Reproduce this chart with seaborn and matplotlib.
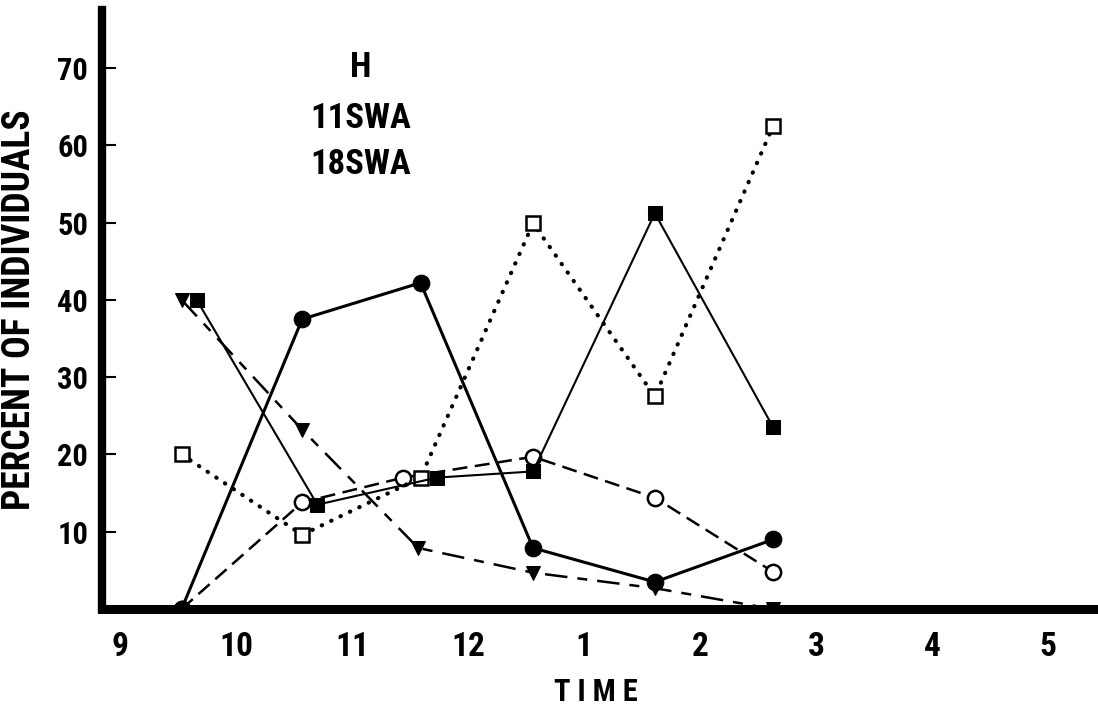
import numpy as np
import pandas as pd
import matplotlib
matplotlib.use('Agg')
import matplotlib.pyplot as plt
import seaborn as sns

# values (x in hours, 13 = 1 pm, etc.)
hour_ticks = [9, 10, 11, 12, 13, 14, 15, 16, 17]
hour_labels = ['9', '10', '11', '12', '1', '2', '3', '4', '5']
pct_ticks = [10, 20, 30, 40, 50, 60, 70]

x_fcircle = [9.53, 10.57, 11.59, 12.56, 13.61, 14.63]
y_fcircle = [0, 37.5, 42.2, 7.9, 3.5, 9.0]

x_fsquare = [9.66, 10.70, 11.73, 12.56, 13.61, 14.63]
y_fsquare = [40, 13.5, 17.0, 17.8, 51.2, 23.5]

x_ocircle = [9.53, 10.57, 11.44, 12.56, 13.61, 14.63]
y_ocircle = [0, 13.8, 17.0, 19.7, 14.4, 4.8]

x_osquare = [9.53, 10.57, 11.59, 12.56, 13.61, 14.63]
y_osquare = [20, 9.6, 17.0, 49.9, 27.5, 62.5]

x_tri = [9.53, 10.57, 11.57, 12.56, 13.61, 14.63]
y_tri = [40, 23.2, 7.9, 4.7, 2.7, 0]

label_lines = ['H', '11SWA', '18SWA']
label_y = [70.1, 63.5, 57.5]

sns.set_style('white')
plt.rcParams['font.family'] = ['Roboto Condensed', 'DejaVu Sans']
plt.rcParams['font.weight'] = 'bold'
for k in ['text.color', 'axes.labelcolor', 'xtick.color', 'ytick.color']:
    plt.rcParams[k] = 'black'

fig = plt.figure(figsize=(10.98, 7.09), dpi=100)
ax = fig.add_axes([0.093, 0.141, 0.907, 0.845])

sns.lineplot(x=x_ocircle, y=y_ocircle, ax=ax, color='black', lw=1.8,
             ls=(0, (6, 3)), marker='o', ms=11, mfc='white', mec='black', mew=1.8)
sns.lineplot(x=x_osquare, y=y_osquare, ax=ax, color='black', lw=3.0,
             ls=(0, (0.1, 2.4)), dash_capstyle='round', marker='s', ms=9.5,
             mfc='white', mec='black', mew=1.8)
sns.lineplot(x=x_tri, y=y_tri, ax=ax, color='black', lw=1.8,
             ls=(0, (9, 4, 4, 4)), marker='v', ms=10, mfc='black', mec='black')
sns.lineplot(x=x_fsquare, y=y_fsquare, ax=ax, color='black', lw=1.5,
             marker='s', ms=10, mfc='black', mec='black')
sns.lineplot(x=x_fcircle, y=y_fcircle, ax=ax, color='black', lw=2.2,
             marker='o', ms=12, mfc='black', mec='black')

ax.set_xlim(8.845, 17.43)
ax.set_ylim(0, 77.5)
ax.set_xticks(hour_ticks)
ax.set_xticklabels(hour_labels)
ax.set_yticks(pct_ticks)
ax.tick_params(axis='x', length=0, pad=16, labelsize=24)
ax.tick_params(axis='y', left=True, direction='in', length=10, width=1.5,
               pad=10, labelsize=22)

for side in ['top', 'right']:
    ax.spines[side].set_visible(False)
ax.spines['left'].set_linewidth(6.0)
ax.spines['bottom'].set_linewidth(6.5)
for side in ['left', 'bottom']:
    ax.spines[side].set_color('black')
    ax.spines[side].set_clip_on(False)

ax.set_ylabel('PERCENT OF INDIVIDUALS', fontsize=27, fontweight='bold')
ax.yaxis.set_label_coords(-0.064, 0.5)
ax.set_xlabel('T I M E', fontsize=22, fontweight='bold')
ax.xaxis.set_label_coords(0.496, -0.113)

for txt, ty in zip(label_lines, label_y):
    ax.text(11.07, ty, txt, ha='center', va='center',
            fontsize=25, fontweight='bold')

fig.savefig('out.png', dpi=100)
